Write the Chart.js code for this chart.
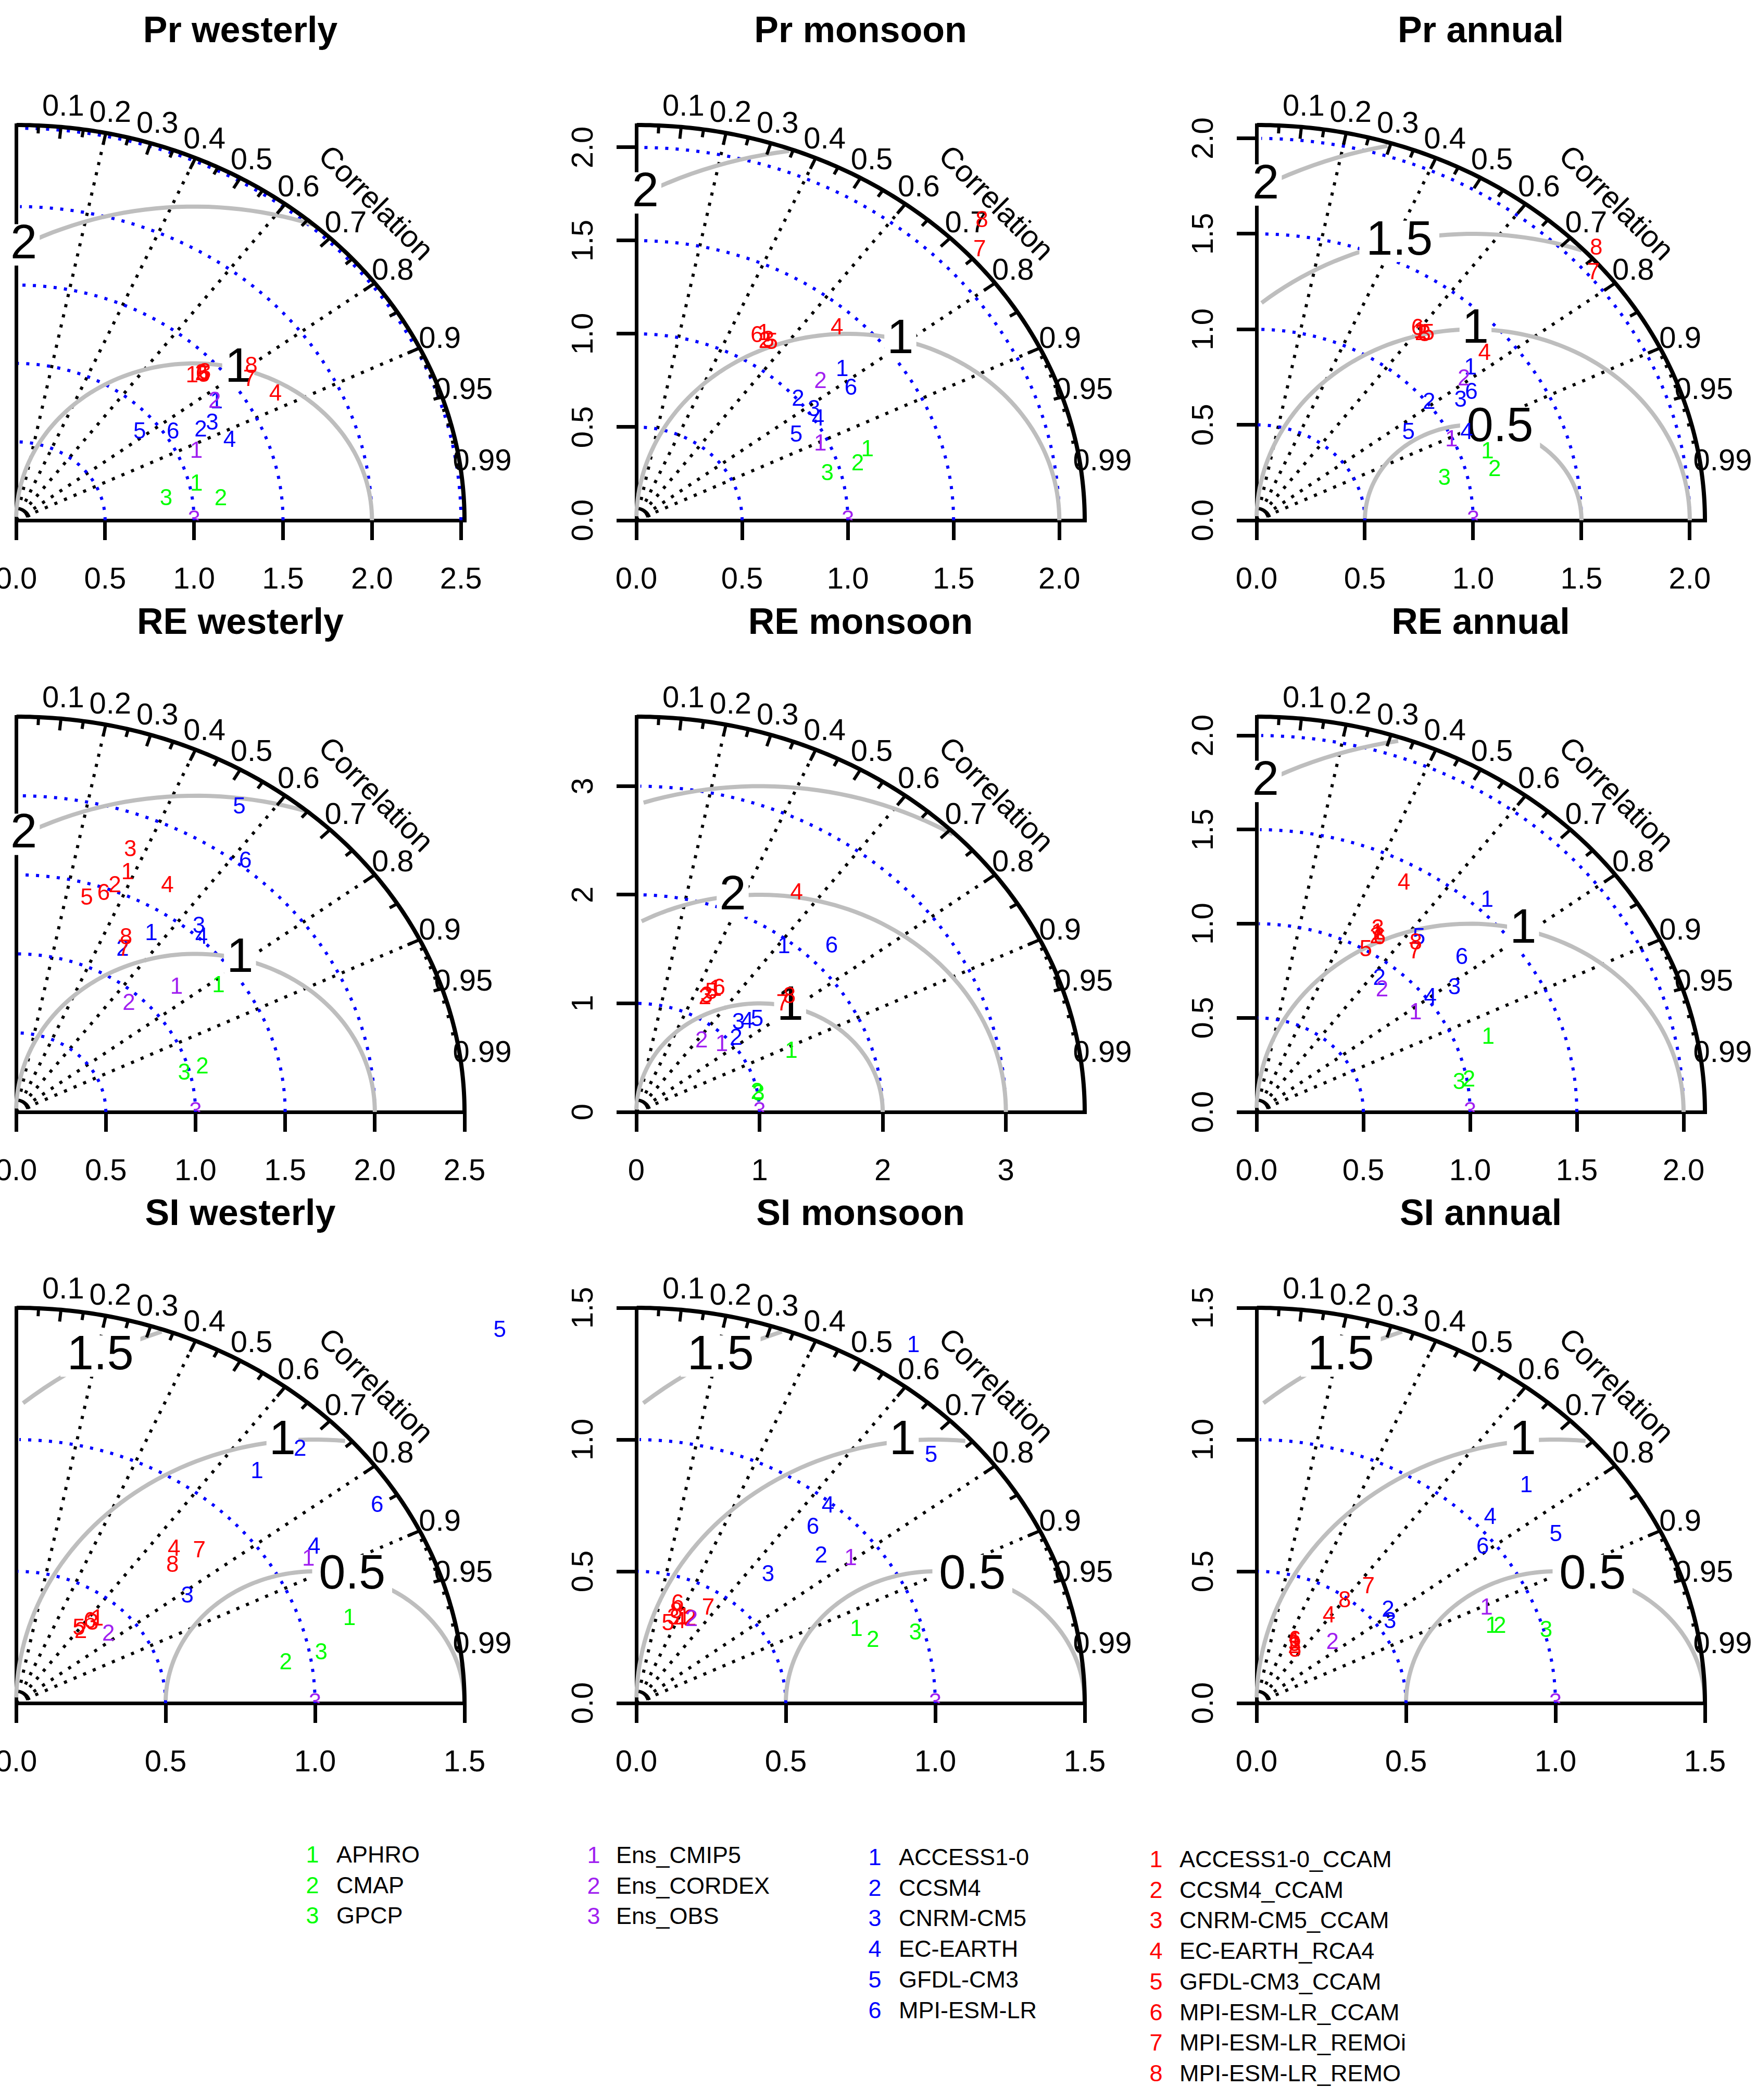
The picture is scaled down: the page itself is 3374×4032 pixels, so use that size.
<!DOCTYPE html>
<html>
<head>
<meta charset="utf-8">
<title>Taylor diagrams: Pr, RE, SI</title>
<script src="https://cdn.jsdelivr.net/npm/chart.js@4.4.1/dist/chart.umd.min.js"></script>
<style>
  html, body { margin: 0; padding: 0; background: #fff; }
  body { position: relative; width: 3374px; height: 4032px; overflow: hidden; font-family: "Liberation Sans", Arial, sans-serif; }
  canvas { position: absolute; }
  .leg { position: absolute; font-size: 45px; line-height: 44px; white-space: nowrap; color: #000; }
  .leg.num { width: 50px; text-align: center; }
</style>
</head>
<body>
<script>
// Values: [normalised standard deviation, correlation]
// order inside each group = legend numbering (1, 2, 3 ...)

// Pr
const prWestObs = [[1.039, 0.975], [1.158, 0.993], [0.854, 0.987]];
const prWestEns = [[1.104, 0.917], [1.349, 0.827], [1.0, 1.0]];
const prWestGcm = [[1.355, 0.831], [1.186, 0.875], [1.264, 0.872], [1.303, 0.921], [0.894, 0.777], [1.046, 0.843]];
const prWestRcm = [[1.350, 0.732], [1.398, 0.744], [1.417, 0.748], [1.664, 0.876], [1.403, 0.752], [1.399, 0.747], [1.589, 0.825], [1.646, 0.803]];

const prMonObs = [[1.156, 0.945], [1.089, 0.961], [0.937, 0.964]];
const prMonEns = [[0.961, 0.905], [1.145, 0.760], [1.0, 1.0]];
const prMonGcm = [[1.264, 0.770], [1.002, 0.763], [1.028, 0.817], [1.016, 0.846], [0.882, 0.857], [1.237, 0.820]];
const prMonRcm = [[1.168, 0.516], [1.135, 0.535], [1.147, 0.543], [1.401, 0.677], [1.148, 0.557], [1.142, 0.499], [2.176, 0.746], [2.291, 0.713]];

const prAnnObs = [[1.125, 0.948], [1.131, 0.972], [0.894, 0.970]];
const prAnnEns = [[0.993, 0.906], [1.209, 0.792], [1.0, 1.0]];
const prAnnGcm = [[1.269, 0.778], [1.008, 0.790], [1.132, 0.832], [1.073, 0.904], [0.838, 0.837], [1.196, 0.829]];
const prAnnRcm = [[1.242, 0.607], [1.237, 0.614], [1.243, 0.624], [1.367, 0.770], [1.258, 0.630], [1.248, 0.595], [2.025, 0.768], [2.119, 0.740]];

// RE
const reWestObs = [[1.381, 0.817], [1.076, 0.965], [0.968, 0.968]];
const reWestEns = [[1.192, 0.750], [0.931, 0.675], [1.0, 1.0]];
const reWestGcm = [[1.355, 0.556], [1.188, 0.500], [1.554, 0.656], [1.511, 0.684], [2.295, 0.542], [2.035, 0.628]];
const reWestRcm = [[1.635, 0.380], [1.533, 0.359], [1.774, 0.359], [1.660, 0.508], [1.406, 0.280], [1.464, 0.333], [1.193, 0.505], [1.261, 0.486]];

const reMonObs = [[1.376, 0.914], [0.996, 0.984], [1.004, 0.987]];
const reMonEns = [[0.930, 0.746], [0.841, 0.629], [1.0, 1.0]];
const reMonGcm = [[1.937, 0.619], [1.054, 0.768], [1.167, 0.710], [1.224, 0.735], [1.297, 0.756], [2.202, 0.720]];
const reMonRcm = [[1.299, 0.495], [1.188, 0.469], [1.209, 0.472], [2.400, 0.542], [1.258, 0.484], [1.319, 0.509], [1.549, 0.766], [1.633, 0.761]];

const reAnnObs = [[1.155, 0.939], [1.009, 0.986], [0.961, 0.987]];
const reAnnEns = [[0.911, 0.817], [0.875, 0.672], [1.0, 1.0]];
const reAnnGcm = [[1.558, 0.693], [0.913, 0.630], [1.137, 0.815], [1.015, 0.802], [1.198, 0.635], [1.263, 0.761]];
const reAnnRcm = [[1.106, 0.512], [1.086, 0.515], [1.126, 0.504], [1.397, 0.494], [1.001, 0.511], [1.090, 0.528], [1.128, 0.657], [1.167, 0.639]];

// SI
const siWestObs = [[1.160, 0.961], [0.915, 0.986], [1.038, 0.983]];
const siWestEns = [[1.120, 0.873], [0.404, 0.764], [1.0, 1.0]];
const siWestGcm = [[1.192, 0.676], [1.353, 0.702], [0.702, 0.816], [1.159, 0.860], [2.149, 0.753], [1.421, 0.850]];
const siWestRcm = [[0.419, 0.649], [0.347, 0.622], [0.395, 0.645], [0.787, 0.671], [0.353, 0.595], [0.395, 0.625], [0.842, 0.728], [0.739, 0.708]];

const siMonObs = [[0.787, 0.935], [0.826, 0.958], [0.970, 0.962]];
const siMonEns = [[0.902, 0.795], [0.366, 0.505], [1.0, 1.0]];
const siMonGcm = [[1.643, 0.564], [0.833, 0.742], [0.656, 0.672], [0.985, 0.651], [1.362, 0.724], [0.891, 0.663]];
const siMonRcm = [[0.362, 0.442], [0.365, 0.493], [0.346, 0.358], [0.341, 0.425], [0.319, 0.332], [0.401, 0.344], [0.432, 0.556], [0.370, 0.360]];

const siAnnObs = [[0.839, 0.938], [0.864, 0.942], [1.007, 0.962]];
const siAnnEns = [[0.849, 0.906], [0.342, 0.743], [1.0, 1.0]];
const siAnnGcm = [[1.223, 0.738], [0.564, 0.780], [0.543, 0.822], [1.052, 0.743], [1.188, 0.843], [0.960, 0.788]];
const siAnnRcm = [[0.265, 0.486], [0.248, 0.507], [0.256, 0.497], [0.409, 0.592], [0.238, 0.542], [0.270, 0.474], [0.579, 0.646], [0.487, 0.605]];

// axis ticks
const ticks25 = [0, 0.5, 1, 1.5, 2, 2.5];
const labels25 = ['0.0', '0.5', '1.0', '1.5', '2.0', '2.5'];
const ticks20 = [0, 0.5, 1, 1.5, 2];
const labels20 = ['0.0', '0.5', '1.0', '1.5', '2.0'];
const ticks15 = [0, 0.5, 1, 1.5];
const labels15 = ['0.0', '0.5', '1.0', '1.5'];
const ticks3 = [0, 1, 2, 3];
const labels3 = ['0', '1', '2', '3'];

// legend
const obsNames = ['APHRO', 'CMAP', 'GPCP'];
const ensNames = ['Ens_CMIP5', 'Ens_CORDEX', 'Ens_OBS'];
const gcmNames = ['ACCESS1-0', 'CCSM4', 'CNRM-CM5', 'EC-EARTH', 'GFDL-CM3', 'MPI-ESM-LR'];
const rcmNames = ['ACCESS1-0_CCAM', 'CCSM4_CCAM', 'CNRM-CM5_CCAM', 'EC-EARTH_RCA4', 'GFDL-CM3_CCAM', 'MPI-ESM-LR_CCAM', 'MPI-ESM-LR_REMOi', 'MPI-ESM-LR_REMO'];

const corrLabels = [0.1, 0.2, 0.3, 0.4, 0.5, 0.6, 0.7, 0.8, 0.9, 0.95, 0.99];

const GREEN = '#00FF00', PURPLE = '#A020F0', BLUE = '#0000FF', RED = '#FF0000';
const FONT = '"Liberation Sans", Arial, Helvetica, sans-serif';

const panels = [
  { title: 'Pr westerly', obs: prWestObs, ens: prWestEns, gcm: prWestGcm, rcm: prWestRcm, maxsd: 2.52, ticks: ticks25, labels: labels25, gammas: [1, 2] },
  { title: 'Pr monsoon',  obs: prMonObs,  ens: prMonEns,  gcm: prMonGcm,  rcm: prMonRcm,  maxsd: 2.12, ticks: ticks20, labels: labels20, gammas: [1, 2] },
  { title: 'Pr annual',   obs: prAnnObs,  ens: prAnnEns,  gcm: prAnnGcm,  rcm: prAnnRcm,  maxsd: 2.07, ticks: ticks20, labels: labels20, gammas: [0.5, 1, 1.5, 2] },
  { title: 'RE westerly', obs: reWestObs, ens: reWestEns, gcm: reWestGcm, rcm: reWestRcm, maxsd: 2.50, ticks: ticks25, labels: labels25, gammas: [1, 2] },
  { title: 'RE monsoon',  obs: reMonObs,  ens: reMonEns,  gcm: reMonGcm,  rcm: reMonRcm,  maxsd: 3.64, ticks: ticks3,  labels: labels3,  gammas: [1, 2, 3] },
  { title: 'RE annual',   obs: reAnnObs,  ens: reAnnEns,  gcm: reAnnGcm,  rcm: reAnnRcm,  maxsd: 2.10, ticks: ticks20, labels: labels20, gammas: [1, 2] },
  { title: 'SI westerly', obs: siWestObs, ens: siWestEns, gcm: siWestGcm, rcm: siWestRcm, maxsd: 1.5,  ticks: ticks15, labels: labels15, gammas: [0.5, 1, 1.5] },
  { title: 'SI monsoon',  obs: siMonObs,  ens: siMonEns,  gcm: siMonGcm,  rcm: siMonRcm,  maxsd: 1.5,  ticks: ticks15, labels: labels15, gammas: [0.5, 1, 1.5] },
  { title: 'SI annual',   obs: siAnnObs,  ens: siAnnEns,  gcm: siAnnGcm,  rcm: siAnnRcm,  maxsd: 1.5,  ticks: ticks15, labels: labels15, gammas: [0.5, 1, 1.5] }
];

// page layout (px)
const PLOT_W = 861, PLOT_H = 759;
const COL_X = [31, 1222, 2413];
const ROW_Y = [999, 2135, 3270];
const LEFT_SPACE = 150, BOTTOM_SPACE = 150, TOP_SPACE = 240, RIGHT_SPACE = 220;

Chart.defaults.font.family = FONT;
Chart.defaults.color = '#000';

// sd + correlation -> taylor x/y
function toXY(p) {
  const sd = p[0], r = p[1];
  return { x: sd * r, y: sd * Math.sqrt(Math.max(0, 1 - r * r)) };
}

const measureCtx = document.createElement('canvas').getContext('2d');
function textWidth(labels, size) {
  measureCtx.font = size + 'px ' + FONT;
  return Math.max(...labels.map(l => measureCtx.measureText(l).width));
}

// draws the taylor-diagram frame (correlation rays, sd arcs, rms arcs, outer arc) and the numbered marks
function taylorPlugin(p) {
  const M = p.maxsd;
  return {
    id: 'taylorFrame',
    beforeDatasetsDraw(chart) {
      const ctx = chart.ctx;
      const sx = chart.scales.x, sy = chart.scales.y;
      const P = (x, y) => [sx.getPixelForValue(x), sy.getPixelForValue(y)];
      ctx.save();
      ctx.lineCap = 'butt';

      // correlation rays
      ctx.strokeStyle = '#000';
      ctx.lineWidth = 6;
      ctx.setLineDash([6, 14]);
      [0.2, 0.4, 0.6, 0.8, 0.9].forEach(r => {
        ctx.beginPath();
        ctx.moveTo(...P(0, 0));
        ctx.lineTo(...P(M * r, M * Math.sqrt(1 - r * r)));
        ctx.stroke();
      });

      // standard deviation arcs
      ctx.strokeStyle = BLUE;
      p.ticks.filter(t => t > 0).forEach(s => {
        ctx.beginPath();
        for (let i = 0; i <= 52; i++) {
          const t = i * 0.03;
          const q = P(s * Math.cos(t), s * Math.sin(t));
          if (i === 0) ctx.moveTo(...q); else ctx.lineTo(...q);
        }
        ctx.stroke();
      });

      // centred rms arcs around the reference
      ctx.setLineDash([]);
      const n = p.gammas.length;
      p.gammas.forEach((g, gi) => {
        const xs = [], ys = [];
        for (let i = 0; i < 105; i++) {
          xs.push(1 + g * Math.cos(i * 0.03));
          ys.push(g * Math.sin(i * 0.03));
        }
        const neg = xs.findIndex(v => v < 0);
        const end = neg < 0 ? 104 : neg - 1;
        let start = 0;
        xs.forEach((v, i) => { if (v * v + ys[i] * ys[i] > M * M) start = i + 1; });
        ctx.strokeStyle = '#BEBEBE';
        ctx.lineWidth = 8;
        ctx.beginPath();
        for (let i = start; i <= end; i++) {
          const q = P(xs[i], ys[i]);
          if (i === start) ctx.moveTo(...q); else ctx.lineTo(...q);
        }
        ctx.stroke();
        const lp = Math.floor(n > 1 ? 45 + 25 * gi / (n - 1) : 45) - 1;
        if (xs[lp] > 0) {
          const txt = String(g);
          ctx.font = '92px ' + FONT;
          const w = ctx.measureText(txt).width, h = 92 * 0.72;
          const [cx, cy] = P(xs[lp], ys[lp]);
          ctx.fillStyle = '#fff';
          ctx.fillRect(cx - w * 0.6, cy - h * 0.6, w * 1.2, h * 1.2);
          ctx.fillStyle = '#000';
          ctx.textAlign = 'center';
          ctx.textBaseline = 'middle';
          ctx.fillText(txt, cx, cy);
        }
      });

      // outer arc
      ctx.strokeStyle = '#000';
      ctx.lineWidth = 8;
      ctx.beginPath();
      for (let i = 0; i <= 157; i++) {
        const t = i * 0.01;
        const q = P(M * Math.cos(t), M * Math.sin(t));
        if (i === 0) ctx.moveTo(...q); else ctx.lineTo(...q);
      }
      ctx.stroke();

      // correlation ticks
      ctx.lineWidth = 6;
      const tick = (r, f) => {
        const s = Math.sqrt(1 - r * r);
        ctx.beginPath();
        ctx.moveTo(...P(M * r, M * s));
        ctx.lineTo(...P(f * M * r, f * M * s));
        ctx.stroke();
      };
      for (let k = 1; k <= 9; k++) tick(k / 10, 0.97);
      for (let k = 0; k < 10; k++) tick(0.05 + k / 10, 0.98);
      for (let k = 1; k <= 9; k++) tick(0.9 + k / 100, 0.99);

      // small arc at the origin
      ctx.lineWidth = 6;
      ctx.beginPath();
      for (let a = 15; a <= 80; a += 5) {
        const t = a * Math.PI / 180;
        const q = P(0.03 * M * Math.cos(t), 0.03 * M * Math.sin(t));
        if (a === 15) ctx.moveTo(...q); else ctx.lineTo(...q);
      }
      ctx.stroke();

      // correlation labels
      ctx.fillStyle = '#000';
      ctx.font = '58px ' + FONT;
      ctx.textAlign = 'center';
      ctx.textBaseline = 'middle';
      corrLabels.forEach(r => {
        ctx.fillText(String(r), ...P(1.05 * M * r, 1.05 * M * Math.sqrt(1 - r * r)));
      });
      const [lx, ly] = P(0.8 * M, 0.8 * M);
      ctx.translate(lx, ly);
      ctx.rotate(Math.PI / 4);
      ctx.fillText('Correlation', 0, 0);
      ctx.restore();
    },
    afterDatasetsDraw(chart) {
      const ctx = chart.ctx;
      const area = chart.chartArea;
      ctx.save();
      ctx.beginPath();
      ctx.rect(0, 0, chart.width, area.bottom);
      ctx.clip();
      ctx.font = '44px ' + FONT;
      ctx.textAlign = 'center';
      ctx.textBaseline = 'middle';
      chart.data.datasets.forEach((ds, i) => {
        ctx.fillStyle = ds.markColor;
        chart.getDatasetMeta(i).data.forEach((pt, j) => ctx.fillText(String(j + 1), pt.x, pt.y));
      });
      ctx.restore();
    }
  };
}

panels.forEach((p, idx) => {
  const col = idx % 3, row = Math.floor(idx / 3);
  const canvas = document.createElement('canvas');
  const cw = LEFT_SPACE + PLOT_W + RIGHT_SPACE, ch = TOP_SPACE + PLOT_H + BOTTOM_SPACE;
  canvas.width = cw;
  canvas.height = ch;
  canvas.style.width = cw + 'px';
  canvas.style.height = ch + 'px';
  canvas.style.left = (COL_X[col] - LEFT_SPACE) + 'px';
  canvas.style.top = (ROW_Y[row] - PLOT_H - TOP_SPACE) + 'px';
  document.body.appendChild(canvas);

  const showY = col > 0;
  const yPad = 62 - textWidth(p.labels, 58) / 2;
  const setTicks = axis => { axis.ticks = p.ticks.map(v => ({ value: v })); };
  const gridOpts = { display: true, drawOnChartArea: false, drawTicks: true, tickLength: 38, tickWidth: 7, tickColor: '#000', color: '#000', lineWidth: 7 };

  new Chart(canvas, {
    type: 'scatter',
    data: {
      datasets: [
        { label: 'CMIP5', data: p.gcm.map(toXY), markColor: BLUE, pointRadius: 0, pointHoverRadius: 0 },
        { label: 'CORDEX', data: p.rcm.map(toXY), markColor: RED, pointRadius: 0, pointHoverRadius: 0 },
        { label: 'OBS', data: p.obs.map(toXY), markColor: GREEN, pointRadius: 0, pointHoverRadius: 0 },
        { label: 'Ensemble', data: p.ens.map(toXY), markColor: PURPLE, pointRadius: 0, pointHoverRadius: 0 }
      ]
    },
    options: {
      responsive: false,
      animation: false,
      events: [],
      layout: { padding: { left: 0, right: RIGHT_SPACE, top: 0, bottom: 0 } },
      plugins: {
        legend: { display: false },
        tooltip: { enabled: false },
        title: {
          display: true, text: p.title, fullSize: false, color: '#000',
          font: { size: 70, weight: 'bold' },
          padding: { top: 20, bottom: 136 }
        }
      },
      scales: {
        x: {
          type: 'linear', position: 'bottom', min: 0, max: p.maxsd,
          afterBuildTicks: setTicks,
          afterFit: s => { s.height = BOTTOM_SPACE; },
          grid: gridOpts,
          border: { display: true, color: '#000', width: 7 },
          ticks: { autoSkip: false, maxRotation: 0, minRotation: 0, padding: 42, color: '#000', font: { size: 58 },
                   callback: (v, i) => p.labels[i] }
        },
        y: {
          type: 'linear', position: 'left', min: 0, max: p.maxsd,
          afterBuildTicks: setTicks,
          afterFit: s => { s.width = LEFT_SPACE; },
          grid: showY ? gridOpts : { display: false },
          border: { display: true, color: '#000', width: 7 },
          ticks: { display: showY, autoSkip: false, minRotation: 90, maxRotation: 90, crossAlign: 'center',
                   padding: yPad, color: '#000', font: { size: 58 },
                   callback: (v, i) => p.labels[i] }
        }
      }
    },
    plugins: [taylorPlugin(p)]
  });
});

// legend: four columns of numbered entries
const legendCols = [
  { names: obsNames, color: GREEN,  numX: 600,  textX: 646,  top: 3561 },
  { names: ensNames, color: PURPLE, numX: 1140, textX: 1183, top: 3562 },
  { names: gcmNames, color: BLUE,   numX: 1680, textX: 1726, top: 3566 },
  { names: rcmNames, color: RED,    numX: 2220, textX: 2265, top: 3570 }
];
legendCols.forEach(c => {
  c.names.forEach((name, i) => {
    const cy = c.top + i * 58.7;
    const num = document.createElement('div');
    num.className = 'leg num';
    num.textContent = String(i + 1);
    num.style.color = c.color;
    num.style.left = (c.numX - 25) + 'px';
    num.style.top = (cy - 22) + 'px';
    document.body.appendChild(num);
    const txt = document.createElement('div');
    txt.className = 'leg';
    txt.textContent = name;
    txt.style.left = c.textX + 'px';
    txt.style.top = (cy - 22) + 'px';
    document.body.appendChild(txt);
  });
});
</script>
</body>
</html>
